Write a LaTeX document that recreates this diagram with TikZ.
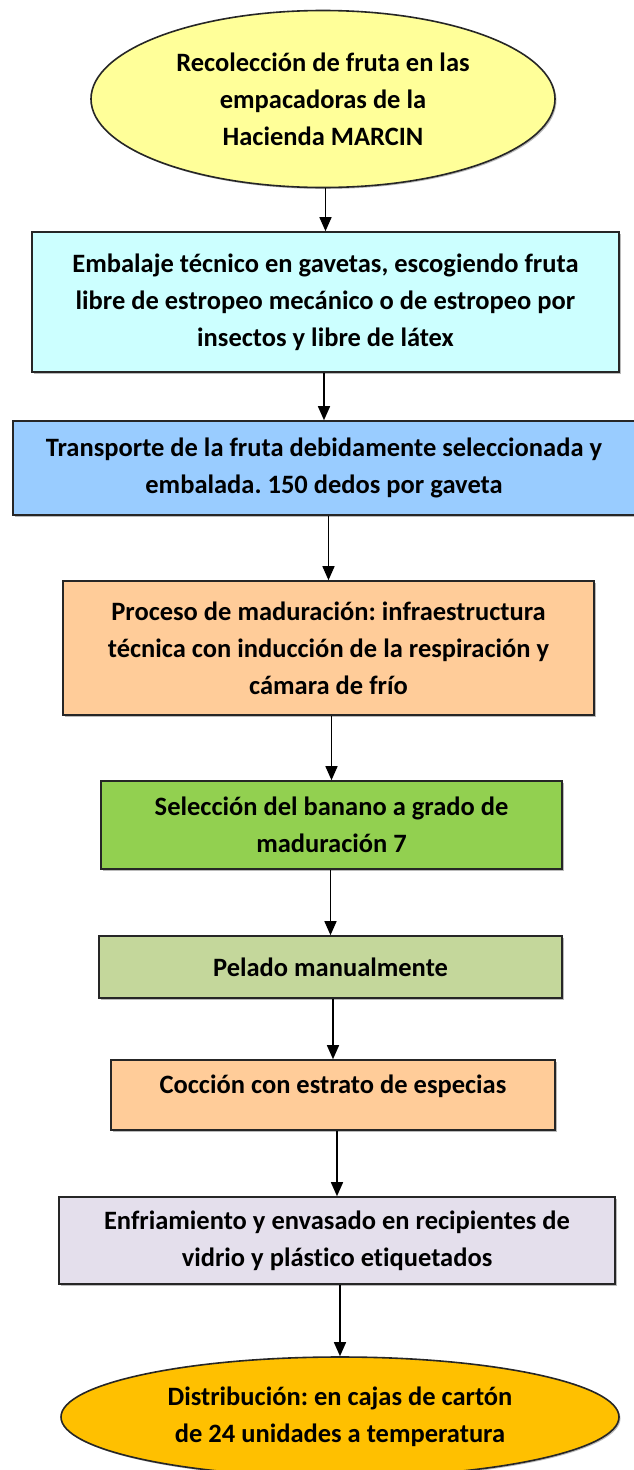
\documentclass[tikz,border=0pt]{standalone}
\usepackage{fontspec}
\setmainfont{Carlito}[Ligatures=NoCommon]
\frenchspacing
\usetikzlibrary{shapes.geometric,arrows.meta,shadows}
\definecolor{cYellow}{HTML}{FFFF99}
\definecolor{cCyan}{HTML}{CCFFFF}
\definecolor{cBlue}{HTML}{99CCFF}
\definecolor{cPeach}{HTML}{FFCC99}
\definecolor{cGreen}{HTML}{92D050}
\definecolor{cOlive}{HTML}{C4D79B}
\definecolor{cLav}{HTML}{E4DFEC}
\definecolor{cGold}{HTML}{FFC000}
\tikzset{
  base/.style={draw=black!85, line width=1.6pt, align=center, inner sep=0pt,
    font=\fontsize{26.5}{37}\selectfont\bfseries\frenchspacing,
    drop shadow={shadow xshift=1.5pt, shadow yshift=-1.5pt, fill=black!45, opacity=0.6}},
  stepbox/.style={base, rectangle},
  ovalbox/.style={base, ellipse},
  arr/.style={draw=black, line width=1.4pt, -{Triangle[length=14pt,width=12pt]}}
}
\begin{document}
\begin{tikzpicture}[x=1pt,y=-1pt]
\clip (0,0) rectangle (634,1470);
\fill[white] (0,0) rectangle (634,1470);

\node[ovalbox, fill=cYellow, minimum width=464pt, minimum height=177pt] (e1) at (323,99)
  {Recolección de fruta en las\\empacadoras de la\\Hacienda MARCIN};

\node[stepbox, fill=cCyan, minimum width=587pt, minimum height=140pt] (b1) at (325.5,302)
  {Embalaje técnico en gavetas, escogiendo fruta\\libre de estropeo mecánico o de estropeo por\\insectos y libre de látex};

\node[stepbox, fill=cBlue, minimum width=622pt, minimum height=94pt] (b2) at (324,468)
  {Transporte de la fruta debidamente seleccionada y\\embalada. 150 dedos por gaveta};

\node[stepbox, fill=cPeach, minimum width=531pt, minimum height=134pt] (b3) at (328.5,648)
  {Proceso de maduración: infraestructura\\técnica con inducción de la respiración y\\cámara de frío};

\node[stepbox, fill=cGreen, minimum width=461pt, minimum height=88pt] (b4) at (331.5,825)
  {Selección del banano a grado de\\maduración 7};

\node[stepbox, fill=cOlive, minimum width=463pt, minimum height=62pt] (b5) at (330.5,967)
  {Pelado manualmente};

\node[stepbox, fill=cPeach, minimum width=444pt, minimum height=70pt, text depth=21pt] (b6) at (333,1095)
  {Cocción con estrato de especias};

\node[stepbox, fill=cLav, minimum width=556pt, minimum height=87pt] (b7) at (337,1240.5)
  {Enfriamiento y envasado en recipientes de\\vidrio y plástico etiquetados};

\node[ovalbox, fill=cGold, minimum width=558pt, minimum height=120pt] (e2) at (340,1417)
  {Distribución: en cajas de cartón\\de 24 unidades a temperatura};

\draw[arr] (e1.south -| b1.north) -- (b1.north);
\draw[arr] (b1.south -| b2.north) -- (b2.north);
\draw[arr] (b2.south -| b3.north) -- (b3.north);
\draw[arr] (b3.south -| b4.north) -- (b4.north);
\draw[arr] (b4.south -| b5.north) -- (b5.north);
\draw[arr] (b5.south -| b6.north) -- (b6.north);
\draw[arr] (b6.south -| b7.north) -- (b7.north);
\draw[arr] (b7.south -| e2.north) -- (e2.north);
\end{tikzpicture}
\end{document}
